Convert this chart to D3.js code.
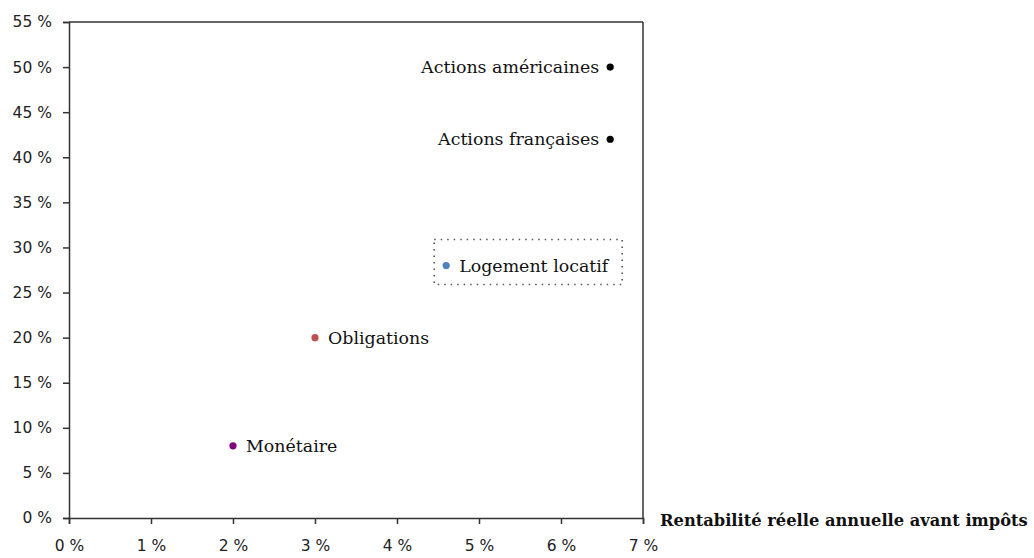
<!DOCTYPE html>
<html><head><meta charset="utf-8">
<script src="https://cdn.jsdelivr.net/npm/d3@7"></script>
<style>body{margin:0;background:#fff}</style>
</head><body>
<svg id="c" width="1034" height="558"></svg>
<script>
const names = ["Actions américaines","Actions françaises","Logement locatif","Obligations","Monétaire"];
const rendement = [6.6, 6.6, 4.6, 3.0, 2.0];
const risque = [50, 42, 28, 20, 8];
const colors = ["#000000","#000000","#4f81bd","#c0504d","#7f007f"];
const labelSide = ["left","left","right","right","right"];
const xTicks = [0,1,2,3,4,5,6,7];
const yTicks = [0,5,10,15,20,25,30,35,40,45,50,55];
const xTitle = "Rentabilité réelle annuelle avant impôts";

const svg = d3.select("#c");
const x = d3.scaleLinear().domain([0,7]).range([69,643]);
const y = d3.scaleLinear().domain([0,55]).range([518,22]);

const gx = svg.append("g").attr("transform","translate(0,518)")
  .call(d3.axisBottom(x).tickValues(xTicks).tickSize(6).tickFormat(d=>d+" %"));
const gy = svg.append("g").attr("transform","translate(69,0)")
  .call(d3.axisLeft(y).tickValues(yTicks).tickSize(6).tickFormat(d=>d+" %"));
[gx,gy].forEach(g=>{
  g.select(".domain").attr("stroke","#333").attr("stroke-width",1.5);
  g.selectAll(".tick line").attr("stroke","#333").attr("stroke-width",1.5);
  g.selectAll("text").attr("font-family","DejaVu Sans, Verdana, sans-serif").attr("font-size",15.5).attr("fill","#222");
});
gx.selectAll("text").attr("y",0).attr("dy","2.15em");
gy.selectAll("text").attr("x",-17);
// frame top & right
svg.append("line").attr("x1",x(0)).attr("x2",x(7)).attr("y1",y(55)).attr("y2",y(55)).attr("stroke","#333").attr("stroke-width",1.5);
svg.append("line").attr("x1",x(7)).attr("x2",x(7)).attr("y1",y(55)).attr("y2",y(0)).attr("stroke","#333").attr("stroke-width",1.5);

// dotted box around Logement locatif
const li = 2;
svg.append("rect").attr("x",x(rendement[li])-12).attr("y",y(risque[li])-26)
  .attr("width",188).attr("height",45).attr("fill","none")
  .attr("stroke","#555").attr("stroke-width",1.6).attr("stroke-dasharray","1.5 5");

const pts = svg.append("g");
names.forEach((n,i)=>{
  pts.append("circle").attr("cx",x(rendement[i])).attr("cy",y(risque[i])).attr("r",3.6).attr("fill",colors[i]);
  const left = labelSide[i]==="left";
  pts.append("text").attr("x",x(rendement[i])+(left?-11:13)).attr("y",y(risque[i])).attr("dy","0.35em")
    .attr("text-anchor",left?"end":"start")
    .attr("font-family","DejaVu Serif, serif").attr("font-size",17.4).attr("fill","#111").text(n);
});

svg.append("text").attr("x",660).attr("y",526).attr("font-family","DejaVu Serif, serif")
  .attr("font-weight","bold").attr("font-size",16.3).attr("fill","#111").text(xTitle);
</script>
</body></html>
